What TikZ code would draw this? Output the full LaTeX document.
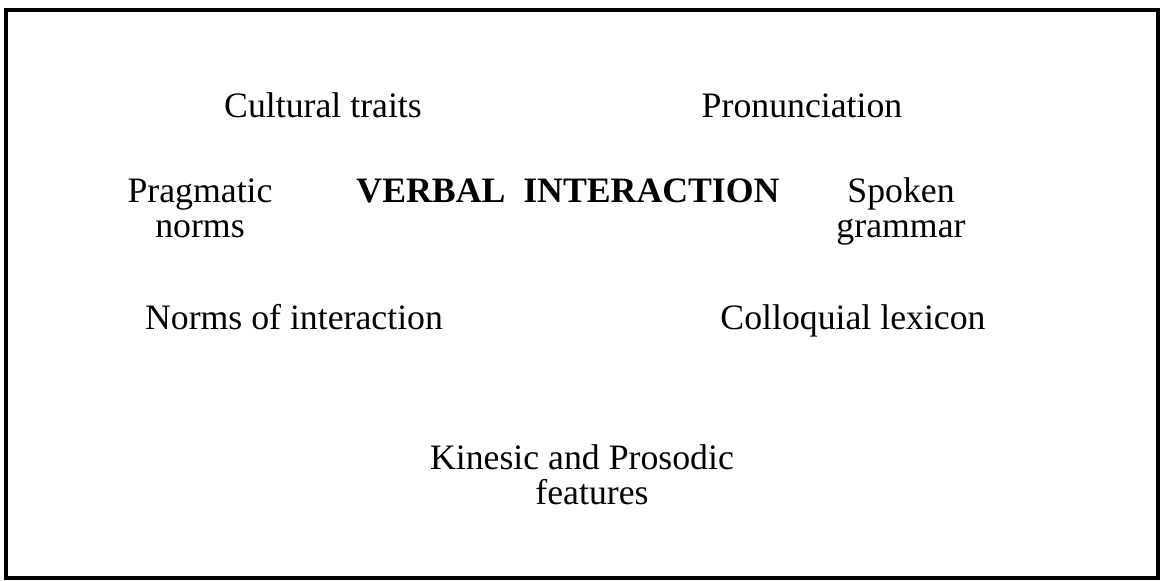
\documentclass[tikz,border=0pt]{standalone}
\usepackage{fontspec}
\setmainfont{Liberation Serif}
\usepackage{tikz}
\usetikzlibrary{positioning}
\definecolor{FrameBlack}{HTML}{000000}
\tikzset{
    % Label styles
    topicbox/.style={
        rectangle,
        draw=none,
        inner sep=0pt,
        align=center,
        font=\fontsize{14}{13.8}\selectfont
    },
    centerbox/.style={
        topicbox,
        font=\fontsize{14}{13.8}\selectfont\bfseries
    },
    % Frame style
    frame/.style={
        draw=FrameBlack,
        line width=1.3pt
    }
}
\begin{document}
\begin{tikzpicture}[x=0.01377cm,y=-0.01377cm]
    \useasboundingbox (0,0) rectangle (1162,581);

    % Frame
    \draw[frame] (6,10) rectangle (1158,578);

    % Centre
    \node[centerbox] (verbal) at (568,195) {\strut VERBAL\ \ INTERACTION};

    % Surrounding labels
    \node[topicbox] (cultural) at (323,110) {\strut Cultural traits};
    \node[topicbox] (pronunciation) at (802,110) {\strut Pronunciation};
    \node[topicbox] (pragmatic) at (200,213) {\strut Pragmatic\\\strut norms};
    \node[topicbox] (spoken) at (901,213) {\strut Spoken\\\strut grammar};
    \node[topicbox] (norms) at (294,322) {\strut Norms of interaction};
    \node[topicbox] (colloquial) at (853,322) {\strut Colloquial lexicon};
    \node[topicbox] (kinesic) at (582,462) {\strut Kinesic and Prosodic};
    \node[topicbox] (features) at (592,497) {\strut features};
\end{tikzpicture}
\end{document}
